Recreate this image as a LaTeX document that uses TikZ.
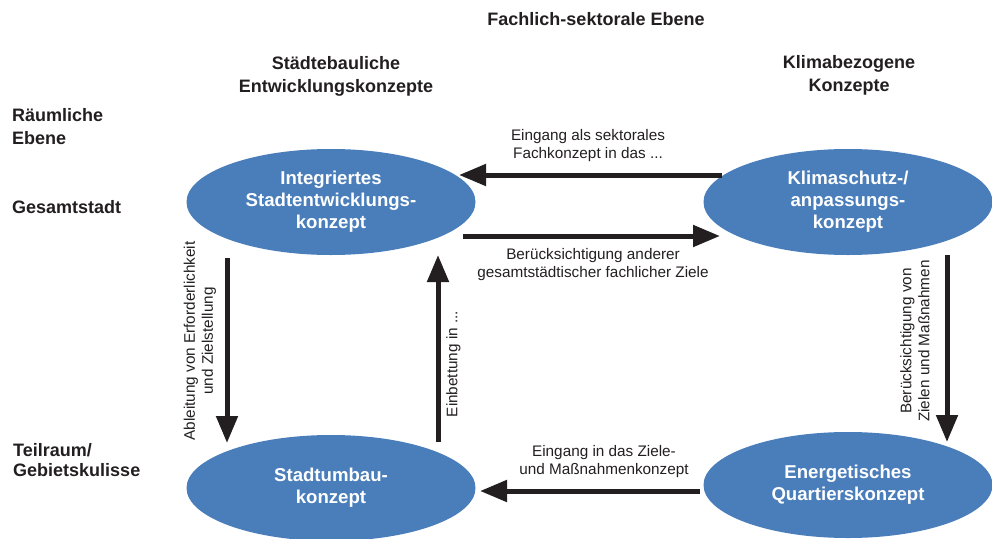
\documentclass[tikz,border=0pt]{standalone}
\usepackage{fontspec}
\setmainfont{Liberation Sans}
\usetikzlibrary{arrows.meta,shapes.geometric}
\definecolor{ellblue}{RGB}{74,126,187}
\definecolor{ink}{RGB}{35,31,32}
\begin{document}
\begin{tikzpicture}[x=1pt,y=-1pt,
  concept/.style={ellipse,fill=ellblue,draw=none,inner sep=0pt,
    minimum width=289pt,minimum height=106pt,text=white,align=center,
    font=\bfseries\fontsize{18.6}{22}\selectfont},
  header/.style={text=ink,inner sep=0pt,font=\bfseries\fontsize{18}{23}\selectfont},
  lbl/.style={text=ink,inner sep=0pt,align=center,font=\fontsize{15.3}{18}\selectfont},
  flow/.style={draw=ink,line width=5pt,-{Triangle[length=27pt,width=21pt]}}
]
\useasboundingbox (0,0) rectangle (992,538);

% headers
\node[header,anchor=base] (title) at (596,25) {Fachlich-sektorale Ebene};
\node[header,align=center] (hstadt) at (336,76) {Städtebauliche\\Entwicklungskonzepte};
\node[header,align=center] (hklima) at (849,75) {Klimabezogene\\Konzepte};
\node[header,align=left,anchor=west] (hraum) at (12,126.4) {Räumliche\\Ebene};
\node[header,anchor=base west] (hgesamt) at (12,213) {Gesamtstadt};
\node[header,align=left,anchor=west,font=\bfseries\fontsize{18}{20}\selectfont] (hteil) at (13,460.5) {Teilraum/\\Gebietskulisse};

% concepts
\node[concept] (isek) at (331,202) {Integriertes\\Stadtentwicklungs-\\konzept};
\node[concept] (klima) at (848,202) {Klimaschutz-/\\anpassungs-\\konzept};
\node[concept] (umbau) at (331,488) {Stadtumbau-\\konzept};
\node[concept] (quartier) at (848,485) {Energetisches\\Quartierskonzept};

% arrow end points
\coordinate (a1s) at (722,175);
\coordinate (a1e) at (459,175);
\coordinate (a2s) at (463,236);
\coordinate (a2e) at (720,236);
\coordinate (a3s) at (227,258);
\coordinate (a3e) at (227,443);
\coordinate (a4s) at (438,442);
\coordinate (a4e) at (438,255);
\coordinate (a5s) at (947,255);
\coordinate (a5e) at (947,442);
\coordinate (a6s) at (700,491);
\coordinate (a6e) at (480,491);

\draw[flow] (a1s) -- (a1e);
\draw[flow] (a2s) -- (a2e);
\draw[flow] (a3s) -- (a3e);
\draw[flow] (a4s) -- (a4e);
\draw[flow] (a5s) -- (a5e);
\draw[flow] (a6s) -- (a6e);

% labels
\node[lbl] (l1) at (588,145.6) {Eingang als sektorales\\Fachkonzept in das ...};
\node[lbl] (l2) at (593,265) {Berücksichtigung anderer\\gesamtstädtischer fachlicher Ziele};
\node[lbl] (l3) at (604,462) {Eingang in das Ziele-\\und Maßnahmenkonzept};
\node[lbl,rotate=90] (l4) at (200,341) {Ableitung von Erforderlichkeit\\und Zielstellung};
\node[lbl,rotate=90] (l5) at (453.5,364) {Einbettung in ...};
\node[lbl,rotate=90] (l6) at (915,341) {Berücksichtigung von\\Zielen und Maßnahmen};
\end{tikzpicture}
\end{document}
